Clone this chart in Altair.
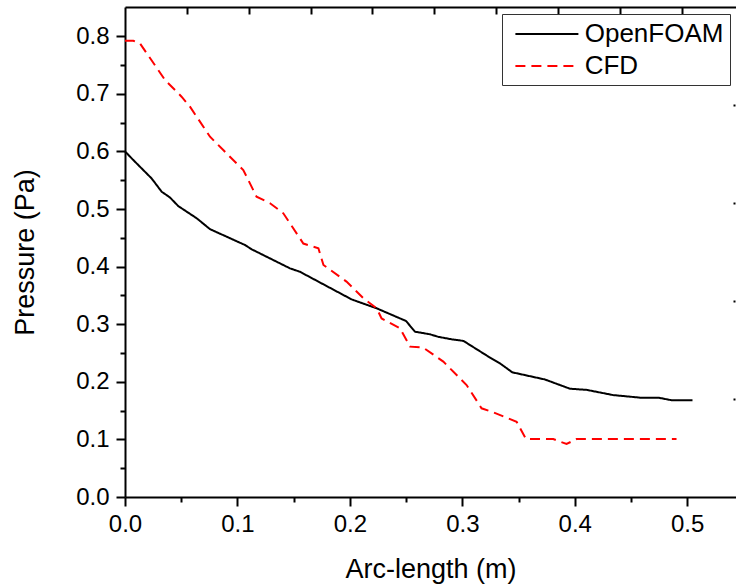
import altair as alt
import pandas as pd

# ---------------- data ----------------
series_names = ["OpenFOAM", "CFD"]
series_colors = ["#000000", "#ff0000"]
series_dashes = [[1, 0], [10, 6]]

openfoam_x = [0.0, 0.0074, 0.0237, 0.0326, 0.040, 0.0474, 0.0637, 0.0756, 0.1067,
              0.1127, 0.123, 0.1467, 0.1556, 0.2016, 0.2238, 0.2499, 0.2579, 0.2712,
              0.2787, 0.2905, 0.301, 0.3233, 0.3335, 0.3444, 0.3735, 0.3957, 0.4105,
              0.434, 0.458, 0.4743, 0.486, 0.5047]
openfoam_y = [0.600, 0.585, 0.553, 0.530, 0.520, 0.505, 0.484, 0.465, 0.4375,
              0.430, 0.420, 0.397, 0.391, 0.343, 0.3276, 0.3056, 0.287, 0.2825,
              0.278, 0.2738, 0.271, 0.2436, 0.232, 0.2165, 0.204, 0.188, 0.186,
              0.177, 0.1725, 0.1725, 0.168, 0.168]

cfd_x = [0.0, 0.0074, 0.0133, 0.0356, 0.0503, 0.0578, 0.0756, 0.0874, 0.0993,
         0.1052, 0.117, 0.129, 0.1408, 0.1586, 0.172, 0.1765, 0.197, 0.212, 0.2238,
         0.2282, 0.2446, 0.2535, 0.2653, 0.2831, 0.3038, 0.3171, 0.3275, 0.3483,
         0.3566, 0.3809, 0.3927, 0.4016, 0.4905]
cfd_y = [0.792, 0.792, 0.7876, 0.724, 0.695, 0.6776, 0.6255, 0.6024, 0.579,
         0.5677, 0.5214, 0.51, 0.4925, 0.44, 0.4318, 0.4028, 0.374, 0.345, 0.3276,
         0.310, 0.2929, 0.261, 0.2593, 0.235, 0.1944, 0.154, 0.147, 0.1307,
         0.1007, 0.1007, 0.092, 0.1007, 0.1007]

x_domain = [0.0, 0.5434]
y_domain = [0.0, 0.8507]
x_tick_values = [0.0, 0.05, 0.1, 0.15, 0.2, 0.25, 0.3, 0.35, 0.4, 0.45, 0.5]
y_tick_values = [0.0, 0.05, 0.1, 0.15, 0.2, 0.25, 0.3, 0.35, 0.4, 0.45, 0.5,
                 0.55, 0.6, 0.65, 0.7, 0.75, 0.8]
top_tick_values = [0.055, 0.110, 0.165, 0.220, 0.275, 0.330, 0.385, 0.440, 0.495]
right_tick_values = [0.1703, 0.3406, 0.5109, 0.6812]

x_title = "Arc-length (m)"
y_title = "Pressure (Pa)"

# ---------------- table ----------------
rows = []
for name, xs, ys in [(series_names[0], openfoam_x, openfoam_y),
                     (series_names[1], cfd_x, cfd_y)]:
    for i, (a, b) in enumerate(zip(xs, ys)):
        rows.append({"series": name, "arc": a, "p": b, "order": i})
df = pd.DataFrame(rows)

FONT = "Liberation Sans"
minor_test = "round(datum.value * 20) % 2 == 1"
# legend box runs past the right edge of the picture, as in the reference
legend_label_expr = "datum.label + '\u00a0\u00a0\u00a0\u00a0\u00a0\u00a0'"

x_scale = alt.Scale(domain=x_domain, nice=False, zero=False)
y_scale = alt.Scale(domain=y_domain, nice=False, zero=False)

base = alt.Chart(df)

main = base.mark_line(strokeWidth=2).encode(
    x=alt.X("arc:Q", scale=x_scale, title=x_title,
            axis=alt.Axis(orient="bottom", values=x_tick_values, format=".1f",
                          labelExpr=f"{minor_test} ? '' : datum.label",
                          tickSize={"condition": {"test": minor_test, "value": 5}, "value": 9},
                          labelPadding=6, labelFlush=False, labelOverlap=False,
                          titleX=305.5, titleY=80, titleAlign="center",
                          titleBaseline="alphabetic")),
    y=alt.Y("p:Q", scale=y_scale, title=y_title,
            axis=alt.Axis(orient="left", values=y_tick_values, format=".1f",
                          labelExpr=f"{minor_test} ? '' : datum.label",
                          tickSize={"condition": {"test": minor_test, "value": 5}, "value": 9},
                          labelPadding=7, labelFlush=False, labelOverlap=False,
                          titleAngle=270, titleX=-92, titleY=245, titleAlign="center",
                          titleBaseline="alphabetic")),
    color=alt.Color("series:N", title=None,
                    scale=alt.Scale(domain=series_names, range=series_colors),
                    legend=alt.Legend(labelExpr=legend_label_expr)),
    strokeDash=alt.StrokeDash("series:N", title=None,
                              scale=alt.Scale(domain=series_names, range=series_dashes),
                              legend=alt.Legend(labelExpr=legend_label_expr)),
    order="order:Q",
    detail="series:N",
)

frame = base.mark_line(strokeOpacity=0).encode(
    x=alt.X("arc:Q", scale=x_scale, title=None,
            axis=alt.Axis(orient="top", labels=False, ticks=False, domain=True)),
    y=alt.Y("p:Q", scale=y_scale, title=None,
            axis=alt.Axis(orient="right", values=right_tick_values, labels=False,
                          domain=False, tickSize=2, offset=-3)),
    detail="series:N",
)

top_ticks = base.mark_line(strokeOpacity=0).encode(
    x=alt.X("arc:Q", scale=x_scale, title=None,
            axis=alt.Axis(orient="top", values=top_tick_values, labels=False,
                          domain=False, tickSize=7, offset=-7)),
    y=alt.Y("p:Q", scale=y_scale, axis=None),
    detail="series:N",
)

chart = alt.layer(main, frame, top_ticks).resolve_axis(
    x="independent", y="independent"
).properties(
    width=611, height=490,
    autosize=alt.AutoSizeParams(type="none"),
    padding={"left": 125, "top": 7, "right": 0, "bottom": 88},
    background="white",
).configure_view(stroke=None).configure_axis(
    grid=False, domainColor="black", domainWidth=2, tickColor="black", tickWidth=2,
    labelFont=FONT, labelFontSize=24, labelColor="black",
    titleFont=FONT, titleFontSize=27, titleFontWeight="normal", titleColor="black",
).configure_legend(
    orient="none", legendX=377, legendY=7,
    strokeColor="#333333", fillColor="white", padding=6,
    symbolType="M-2.5,0H2.5", symbolSize=635, symbolStrokeWidth=2,
    symbolOffset=24.9, labelOffset=23.8, rowPadding=5, labelLimit=400,
    labelFont=FONT, labelFontSize=26, labelColor="black",
)

chart.save("out.html", embed_options={"renderer": "svg", "actions": False})
